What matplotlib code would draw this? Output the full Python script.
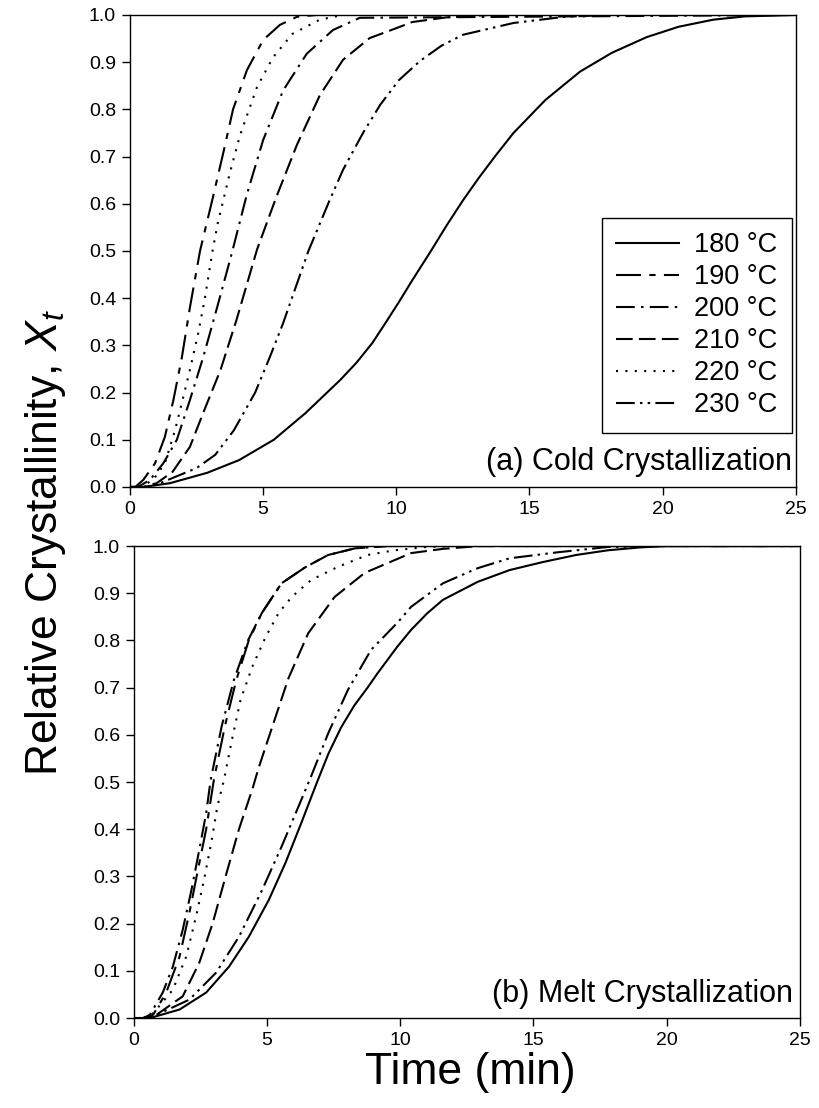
import matplotlib
matplotlib.use("Agg")
import matplotlib.pyplot as plt

plt.rcParams['font.family'] = ['Liberation Sans', 'DejaVu Sans']
plt.rcParams['mathtext.fontset'] = 'custom'
plt.rcParams['mathtext.rm'] = 'Liberation Sans'
plt.rcParams['mathtext.it'] = 'Liberation Sans:italic'

labels = ['180 °C', '190 °C', '200 °C', '210 °C', '220 °C', '230 °C']

# (a) cold crystallization, time (min) / relative crystallinity
cold_t_180 = [0, 0.5, 1.5, 2.9, 4.1, 5.4, 6.6, 7.9, 8.5, 9.1, 9.6, 10.1, 10.6, 11.3, 11.9,
              12.5, 13.1, 13.7, 14.4, 15.6, 16.9, 18.1, 19.4, 20.6, 21.9, 23.1, 25]
cold_x_180 = [0, 0.0, 0.008, 0.03, 0.057, 0.10, 0.157, 0.227, 0.263, 0.305, 0.348, 0.392,
              0.438, 0.50, 0.555, 0.607, 0.655, 0.70, 0.75, 0.82, 0.88, 0.92, 0.953, 0.975,
              0.99, 0.997, 1.0]
cold_t_190 = [0, 0.2, 0.5, 0.94, 1.31, 1.63, 1.95, 2.25, 2.63, 3.12, 3.5, 3.87, 4.39, 5.0,
              5.63, 6.27, 7.0, 25]
cold_x_190 = [0, 0.0, 0.015, 0.05, 0.106, 0.184, 0.275, 0.38, 0.5, 0.615, 0.707, 0.8, 0.883,
              0.947, 0.979, 0.996, 1.0, 1.0]
cold_t_200 = [0, 0.3, 0.75, 1.25, 1.76, 2.25, 2.75, 3.27, 3.8, 4.39, 5.0, 5.75, 6.64, 7.62,
              8.63, 25]
cold_x_200 = [0, 0.0, 0.015, 0.05, 0.1, 0.184, 0.275, 0.38, 0.49, 0.62, 0.735, 0.84, 0.918,
              0.968, 0.994, 1.0]
cold_t_210 = [0, 0.5, 1.0, 1.6, 2.25, 2.75, 3.4, 4.0, 4.77, 5.5, 6.27, 7.13, 8.0, 9.0, 10.0,
              10.6, 11.9, 13.5, 25]
cold_x_210 = [0, 0.0, 0.008, 0.032, 0.085, 0.157, 0.248, 0.354, 0.503, 0.615, 0.725, 0.83,
              0.905, 0.951, 0.972, 0.985, 0.995, 1.0, 1.0]
cold_t_220 = [0, 0.4, 0.87, 1.31, 1.69, 2.0, 2.25, 2.56, 2.8, 3.1, 3.3, 3.75, 4.13, 4.77,
              5.37, 6.1, 7.13, 8.0, 25]
cold_x_220 = [0, 0.0, 0.015, 0.05, 0.12, 0.19, 0.248, 0.325, 0.396, 0.5, 0.56, 0.665, 0.745,
              0.847, 0.91, 0.96, 0.99, 1.0, 1.0]
cold_t_230 = [0, 0.6, 1.0, 1.6, 2.5, 3.2, 3.9, 4.7, 5.25, 5.75, 6.7, 7.5, 8.0, 8.75, 9.4,
              10.1, 10.9, 11.7, 12.5, 14.4, 16.3, 18.0, 25]
cold_x_230 = [0, 0.0, 0.005, 0.019, 0.04, 0.068, 0.12, 0.2, 0.275, 0.347, 0.5, 0.608, 0.672,
              0.75, 0.81, 0.862, 0.903, 0.935, 0.958, 0.983, 0.996, 1.0, 1.0]

# (b) melt crystallization
melt_t_180 = [0, 0.6, 1.71, 2.71, 3.57, 4.31, 5.06, 5.69, 6.28, 6.84, 7.3, 7.77, 8.27, 8.77,
              9.14, 9.89, 10.4, 11.0, 11.6, 12.9, 14.1, 15.35, 16.6, 17.8, 19.0, 20.0, 25]
melt_x_180 = [0, 0.0, 0.018, 0.054, 0.109, 0.172, 0.25, 0.329, 0.413, 0.495, 0.56, 0.615,
              0.662, 0.70, 0.73, 0.787, 0.822, 0.857, 0.886, 0.924, 0.949, 0.966, 0.981,
              0.991, 0.997, 1.0, 1.0]
melt_t_190 = [0, 0.4, 0.72, 1.21, 1.71, 2.08, 2.38, 2.71, 3.0, 3.42, 3.84, 4.31, 4.8, 5.54,
              6.43, 7.29, 8.29, 9.5, 25]
melt_x_190 = [0, 0.0, 0.007, 0.054, 0.13, 0.223, 0.308, 0.4, 0.505, 0.62, 0.716, 0.80, 0.858,
              0.921, 0.955, 0.981, 0.995, 1.0, 1.0]
melt_t_200 = [0, 0.35, 0.6, 1.08, 1.46, 1.83, 2.16, 2.45, 2.71, 2.88, 3.3, 3.75, 4.28, 4.8,
              5.54, 6.43, 7.29, 8.29, 9.5, 25]
melt_x_200 = [0, 0.0, 0.007, 0.054, 0.109, 0.187, 0.272, 0.356, 0.434, 0.505, 0.62, 0.716,
              0.80, 0.858, 0.921, 0.955, 0.981, 0.995, 1.0, 1.0]
melt_t_210 = [0, 0.4, 0.85, 1.83, 2.45, 2.95, 3.44, 3.94, 4.44, 4.68, 5.18, 5.8, 6.54, 7.53,
              8.66, 9.78, 10.4, 11.6, 13.0, 25]
melt_x_210 = [0, 0.0, 0.007, 0.046, 0.117, 0.2, 0.3, 0.4, 0.484, 0.53, 0.615, 0.72, 0.815,
              0.892, 0.943, 0.97, 0.985, 0.994, 1.0, 1.0]
melt_t_220 = [0, 0.35, 0.72, 1.46, 1.96, 2.33, 2.63, 2.9, 3.13, 3.38, 3.68, 4.0, 4.44, 4.94,
              5.43, 5.92, 6.65, 7.66, 8.77, 9.78, 11.0, 12.0, 25]
melt_x_220 = [0, 0.0, 0.01, 0.06, 0.13, 0.215, 0.293, 0.371, 0.448, 0.505, 0.59, 0.674, 0.744,
              0.807, 0.858, 0.892, 0.928, 0.956, 0.981, 0.991, 0.998, 1.0, 1.0]
melt_t_230 = [0, 0.5, 0.97, 2.08, 3.08, 3.94, 4.8, 5.54, 6.28, 6.65, 7.29, 8.03, 8.9, 9.9,
              10.4, 11.6, 12.9, 14.1, 15.95, 17.8, 20.0, 25]
melt_x_230 = [0, 0.0, 0.01, 0.039, 0.096, 0.172, 0.27, 0.363, 0.462, 0.512, 0.603, 0.695,
              0.78, 0.838, 0.871, 0.921, 0.953, 0.974, 0.987, 0.998, 1.0, 1.0]

cold = [(cold_t_180, cold_x_180), (cold_t_190, cold_x_190), (cold_t_200, cold_x_200),
        (cold_t_210, cold_x_210), (cold_t_220, cold_x_220), (cold_t_230, cold_x_230)]
melt = [(melt_t_180, melt_x_180), (melt_t_190, melt_x_190), (melt_t_200, melt_x_200),
        (melt_t_210, melt_x_210), (melt_t_220, melt_x_220), (melt_t_230, melt_x_230)]

styles = ['-', (0, (12, 4, 3, 4)), (0, (9, 3, 1.2, 3)), (0, (8, 3)),
          (0, (1, 3.5)), (0, (9, 2.5, 1.2, 2.5, 1.2, 2.5))]

fig = plt.figure(figsize=(8.2, 11.08), dpi=100)
ax1 = fig.add_axes([0.1585, 0.5605, 0.812, 0.426])
ax2 = fig.add_axes([0.1634, 0.0812, 0.812, 0.426])

for ax, data in ((ax1, cold), (ax2, melt)):
    for (t, x), ls, lab in zip(data, styles, labels):
        ax.plot(t, x, color='black', linestyle=ls, linewidth=1.5, label=lab)
    ax.set_xlim(0, 25)
    ax.set_ylim(0, 1.0)
    ax.set_xticks([0, 5, 10, 15, 20, 25])
    ax.set_yticks([i / 10 for i in range(11)])
    ax.set_yticklabels(['%.1f' % (i / 10) for i in range(11)])
    ax.tick_params(direction='out', length=6, width=1, labelsize=14, pad=4,
                   top=False, right=False)
    for sp in ax.spines.values():
        sp.set_linewidth(1.0)

leg = ax1.legend(loc='lower right', bbox_to_anchor=(0.994, 0.114), fontsize=19.5,
                 frameon=True, fancybox=False, edgecolor='black', framealpha=1,
                 handlelength=2.3, handletextpad=0.55, labelspacing=0.22,
                 borderpad=0.55, borderaxespad=0)
leg.get_frame().set_linewidth(1.0)

ax1.text(0.994, 0.036, '(a) Cold Crystallization', transform=ax1.transAxes,
         ha='right', va='baseline', fontsize=22)
ax2.text(0.99, 0.034, '(b) Melt Crystallization', transform=ax2.transAxes,
         ha='right', va='baseline', fontsize=22)

fig.text(0.055, 0.51, r'Relative Crystallinity, $\mathit{X_t}$', rotation=90,
         ha='center', va='center', fontsize=32)
fig.text(0.573, 0.032, 'Time (min)', ha='center', va='center', fontsize=32)

fig.savefig('out.png', dpi=100)
